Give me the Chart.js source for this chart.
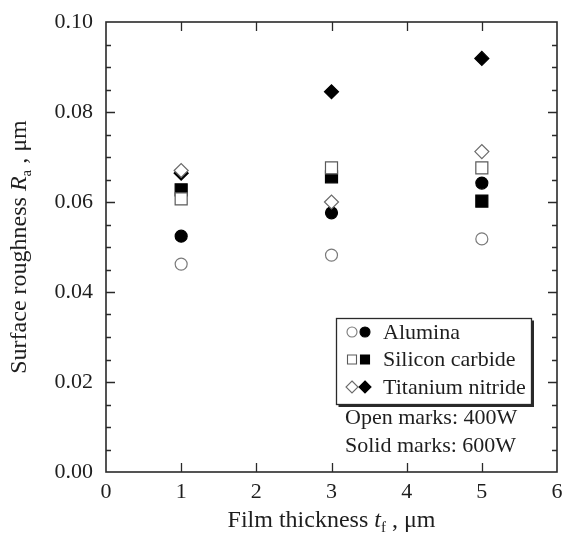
<!DOCTYPE html>
<html>
<head>
<meta charset="utf-8">
<script src="https://cdn.jsdelivr.net/npm/chart.js@4.4.1/dist/chart.umd.min.js"></script>
<style>
  html, body { margin: 0; padding: 0; background: #ffffff; }
  #wrap { width: 563px; height: 544px; position: relative; }
</style>
</head>
<body>
<div id="wrap"><canvas id="c" width="563" height="544"></canvas></div>
<script>
// Film thickness (µm) at which each coating was measured
const thickness = [1, 3, 5];

// Surface roughness Ra (µm) – open marks: 400 W, solid marks: 600 W
const alumina400 = [0.0462, 0.0482, 0.0518];
const alumina600 = [0.0524, 0.0576, 0.0642];
const sic400 = [0.0607, 0.0676, 0.0676];
const sic600 = [0.0627, 0.0656, 0.0602];
const tin400 = [0.0670, 0.0600, 0.0712];
const tin600 = [0.0664, 0.0845, 0.0919];

// Axis tick values
const xTicks = [0, 1, 2, 3, 4, 5, 6];
const yTicks = [0.00, 0.02, 0.04, 0.06, 0.08, 0.10];
const yMinorStep = 0.005;

const legendRows = ['Alumina', 'Silicon carbide', 'Titanium nitride'];
const noteLines = ['Open marks: 400W', 'Solid marks: 600W'];

const SERIF = '"Liberation Serif", "Times New Roman", Times, serif';
const INK = '#1e1e1e';

function pts(ys) { return thickness.map((x, i) => ({ x: x, y: ys[i] })); }

function ds(label, ys, style, filled, radius, stroke) {
  return {
    label: label,
    data: pts(ys),
    pointStyle: style,
    pointRadius: radius,
    pointHoverRadius: radius,
    pointBorderWidth: 1.2,
    pointBorderColor: filled ? '#000000' : stroke,
    pointBackgroundColor: filled ? '#000000' : '#ffffff',
    showLine: false
  };
}

// Drawing order: open marks first, solid marks on top
const datasets = [
  ds('Alumina 400W', alumina400, 'circle', false, 6, '#7a7a7a'),
  ds('Titanium nitride 400W', tin400, 'rectRot', false, 7, '#6a6a6a'),
  ds('Silicon carbide 400W', sic400, 'rect', false, 8.5, '#5a5a5a'),
  ds('Alumina 600W', alumina600, 'circle', true, 6, '#000000'),
  ds('Silicon carbide 600W', sic600, 'rect', true, 8.5, '#000000'),
  ds('Titanium nitride 600W', tin600, 'rectRot', true, 7, '#000000')
];

// Frame and inward tick marks on all four sides
const framePlugin = {
  id: 'frame',
  beforeDatasetsDraw(chart) {
    const { ctx, chartArea: a, scales } = chart;
    const xs = scales.x, ys = scales.y;
    ctx.save();
    ctx.strokeStyle = '#2a2a2a';
    ctx.lineWidth = 1.3;
    ctx.beginPath();
    xTicks.forEach(v => {
      const px = Math.round(xs.getPixelForValue(v)) + 0.5;
      if (v === xTicks[0] || v === xTicks[xTicks.length - 1]) return;
      ctx.moveTo(px, a.bottom); ctx.lineTo(px, a.bottom - 9);
      ctx.moveTo(px, a.top); ctx.lineTo(px, a.top + 9);
    });
    const n = Math.round((yTicks[yTicks.length - 1] - yTicks[0]) / yMinorStep);
    for (let i = 1; i < n; i++) {
      const v = yTicks[0] + i * yMinorStep;
      const major = i % 4 === 0;
      const len = major ? 9 : 5;
      const py = Math.round(ys.getPixelForValue(v)) + 0.5;
      ctx.moveTo(a.left, py); ctx.lineTo(a.left + len, py);
      ctx.moveTo(a.right, py); ctx.lineTo(a.right - len, py);
    }
    ctx.stroke();
    ctx.lineWidth = 1.6;
    ctx.strokeRect(a.left, a.top, a.right - a.left, a.bottom - a.top);
    ctx.restore();
  }
};

// Draws a title made of runs: {t, italic, sub}
function drawRuns(ctx, runs, size) {
  const parts = runs.map(r => {
    const fs = r.sub ? Math.round(size * 0.62) : size;
    const font = (r.italic ? 'italic ' : '') + fs + 'px ' + SERIF;
    ctx.font = font;
    return { r, font, w: ctx.measureText(r.t).width };
  });
  const total = parts.reduce((s, p) => s + p.w, 0);
  let x = -total / 2;
  parts.forEach(p => {
    ctx.font = p.font;
    ctx.fillText(p.r.t, x, p.r.sub ? size * 0.3 : 0);
    x += p.w;
  });
}

const titlePlugin = {
  id: 'titles',
  afterDraw(chart) {
    const { ctx, chartArea: a } = chart;
    ctx.save();
    ctx.fillStyle = INK;
    ctx.textBaseline = 'middle';
    ctx.textAlign = 'left';
    // x-axis title
    ctx.save();
    ctx.translate((a.left + a.right) / 2, 521);
    drawRuns(ctx, [
      { t: 'Film thickness ' },
      { t: 't', italic: true },
      { t: 'f', sub: true },
      { t: ' , \u03bcm' }
    ], 24);
    ctx.restore();
    // y-axis title
    ctx.save();
    ctx.translate(20, (a.top + a.bottom) / 2);
    ctx.rotate(-Math.PI / 2);
    drawRuns(ctx, [
      { t: 'Surface roughness ' },
      { t: 'R', italic: true },
      { t: 'a', sub: true },
      { t: ' , \u03bcm' }
    ], 24);
    ctx.restore();
    ctx.restore();
  }
};

function marker(ctx, style, x, y, filled, stroke) {
  ctx.save();
  ctx.lineWidth = 1.1;
  ctx.strokeStyle = filled ? '#000' : stroke;
  ctx.fillStyle = filled ? '#000' : '#fff';
  ctx.beginPath();
  if (style === 'circle') {
    ctx.arc(x, y, 5, 0, Math.PI * 2);
  } else if (style === 'rect') {
    ctx.rect(x - 4.5, y - 4.5, 9, 9);
  } else {
    ctx.moveTo(x, y - 6); ctx.lineTo(x + 6, y); ctx.lineTo(x, y + 6); ctx.lineTo(x - 6, y); ctx.closePath();
  }
  ctx.fill();
  ctx.stroke();
  ctx.restore();
}

const keyPlugin = {
  id: 'key',
  afterDatasetsDraw(chart) {
    const { ctx } = chart;
    const bx = 336.5, by = 318.5, bw = 195, bh = 86;
    ctx.save();
    ctx.fillStyle = '#2a2a2a';
    ctx.fillRect(bx + 2, by + bh, bw, 2.5);
    ctx.fillRect(bx + bw, by + 2, 2.5, bh + 0.5);
    ctx.fillStyle = '#ffffff';
    ctx.fillRect(bx, by, bw, bh);
    ctx.strokeStyle = '#2a2a2a';
    ctx.lineWidth = 1.3;
    ctx.strokeRect(bx, by, bw, bh);
    const styles = ['circle', 'rect', 'rectRot'];
    const strokes = ['#7a7a7a', '#5a5a5a', '#6a6a6a'];
    ctx.font = '22px ' + SERIF;
    ctx.textBaseline = 'middle';
    ctx.textAlign = 'left';
    legendRows.forEach((name, i) => {
      const y = 332 + i * 27.5;
      marker(ctx, styles[i], 352, y, false, strokes[i]);
      marker(ctx, styles[i], 365, y, true, '#000');
      ctx.fillStyle = INK;
      ctx.fillText(name, 383, y + 1);
    });
    noteLines.forEach((t, i) => {
      ctx.fillStyle = INK;
      ctx.fillText(t, 345, 418 + i * 28);
    });
    ctx.restore();
  }
};

// Scale boxes report no overflow padding so the plot frame sits exactly
// where the layout padding puts it.
const noPad = () => ({ left: 0, top: 0, right: 0, bottom: 0 });

new Chart(document.getElementById('c'), {
  type: 'scatter',
  data: { datasets: datasets },
  options: {
    responsive: false,
    animation: false,
    events: [],
    layout: { autoPadding: false, padding: { top: 22, right: 6, left: 0, bottom: 0 } },
    plugins: { legend: { display: false }, tooltip: { enabled: false } },
    scales: {
      x: {
        type: 'linear',
        min: xTicks[0],
        max: xTicks[xTicks.length - 1],
        afterFit(s) { s.height = 72; s.paddingLeft = 0; s.paddingRight = 0; s.getPadding = noPad; },
        afterBuildTicks(s) { s.ticks = xTicks.map(v => ({ value: v })); },
        grid: { display: false, drawTicks: false },
        border: { display: false },
        ticks: {
          padding: 7,
          color: INK,
          font: { family: SERIF, size: 22 },
          callback: v => String(v)
        },
        title: { display: false }
      },
      y: {
        type: 'linear',
        min: yTicks[0],
        max: yTicks[yTicks.length - 1],
        afterFit(s) { s.width = 106; s.paddingTop = 0; s.paddingBottom = 0; s.getPadding = noPad; },
        afterBuildTicks(s) { s.ticks = yTicks.map(v => ({ value: v })); },
        grid: { display: false, drawTicks: false },
        border: { display: false },
        ticks: {
          padding: 13,
          color: INK,
          font: { family: SERIF, size: 22 },
          callback: v => Number(v).toFixed(2)
        },
        title: { display: false }
      }
    }
  },
  plugins: [framePlugin, keyPlugin, titlePlugin]
});
</script>
</body>
</html>
